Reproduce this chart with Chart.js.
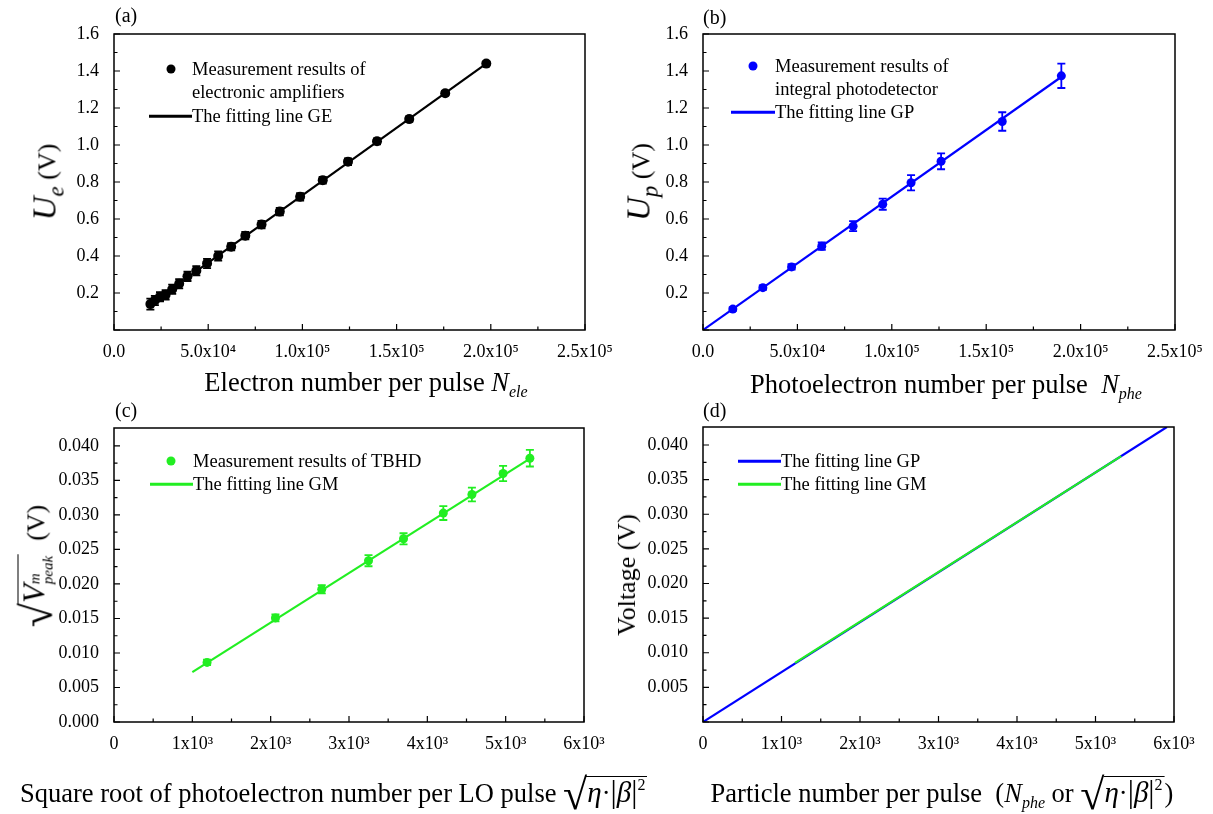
<!DOCTYPE html>
<html><head><meta charset="utf-8">
<script src="https://cdn.jsdelivr.net/npm/chart.js@4.4.1/dist/chart.umd.min.js"></script>
<style>
html,body{margin:0;padding:0;background:#fff;}
#root{position:relative;width:1213px;height:814px;overflow:hidden;font-family:"Liberation Serif","Times New Roman",serif;color:#000;}
.pane{position:absolute;}
.pane canvas{display:block;}
.t{position:absolute;white-space:nowrap;font-size:26.5px;line-height:26px;}
.xt{transform:translateX(-50%);}
.yt{position:absolute;white-space:nowrap;font-size:26px;line-height:30px;transform:translate(-50%,-50%) rotate(-90deg);}
.pl{position:absolute;font-size:20px;line-height:20px;white-space:nowrap;}
.lg{position:absolute;font-size:18.5px;line-height:20px;white-space:nowrap;}
.dot{position:absolute;width:9px;height:9px;border-radius:50%;transform:translate(-50%,-50%);}
.ln{position:absolute;height:2.5px;transform:translateY(-50%);}
.sb{font-size:16px;vertical-align:-6px;line-height:0;}
.sp{font-size:16px;vertical-align:12px;line-height:0;}
.sq{display:inline-block;white-space:nowrap;}
.rs{font-size:44px;line-height:26px;vertical-align:-7px;margin-right:-1px;}
.ov{display:inline-block;border-top:1.4px solid #000;line-height:28px;padding:1px 2px 0 1px;}
.gk{font-size:29px;}
.bar{font-size:31px;}
</style></head><body><div id="root">
<div class="pane" style="left:0;top:0;width:640px;height:400px"><canvas id="ca" width="640" height="400"></canvas></div>
<div class="pane" style="left:600px;top:0;width:613px;height:400px"><canvas id="cb" width="613" height="400"></canvas></div>
<div class="pane" style="left:0;top:400px;width:640px;height:414px"><canvas id="cc" width="640" height="414"></canvas></div>
<div class="pane" style="left:600px;top:400px;width:613px;height:414px"><canvas id="cd" width="613" height="414"></canvas></div>

<div class="pl" style="left:115px;top:5px">(a)</div>
<div class="pl" style="left:703px;top:7px">(b)</div>
<div class="pl" style="left:115px;top:400px">(c)</div>
<div class="pl" style="left:703px;top:400px">(d)</div>

<!-- legends -->
<div class="dot" style="left:171px;top:69px;background:#000"></div>
<div class="lg" style="left:192px;top:59px">Measurement results of</div>
<div class="lg" style="left:192px;top:82px">electronic amplifiers</div>
<div class="ln" style="left:149px;top:116px;width:43px;background:#000"></div>
<div class="lg" style="left:192px;top:106px">The fitting line GE</div>

<div class="dot" style="left:753px;top:66px;background:#0000ff"></div>
<div class="lg" style="left:775px;top:56px">Measurement results of</div>
<div class="lg" style="left:775px;top:79px">integral photodetector</div>
<div class="ln" style="left:731px;top:112px;width:44px;background:#0000ff"></div>
<div class="lg" style="left:775px;top:102px">The fitting line GP</div>

<div class="dot" style="left:171px;top:461px;background:#22ee22"></div>
<div class="lg" style="left:193px;top:451px">Measurement results of TBHD</div>
<div class="ln" style="left:150px;top:484px;width:43px;background:#22ee22"></div>
<div class="lg" style="left:193px;top:474px">The fitting line GM</div>

<div class="ln" style="left:738px;top:461px;width:43px;background:#0000ff"></div>
<div class="lg" style="left:781px;top:451px">The fitting line GP</div>
<div class="ln" style="left:738px;top:484px;width:43px;background:#22ee22"></div>
<div class="lg" style="left:781px;top:474px">The fitting line GM</div>

<!-- axis titles -->
<div class="t xt" style="left:366px;top:369px">Electron number per pulse <i>N</i><i class="sb">ele</i></div>
<div class="t xt" style="left:946px;top:371px">Photoelectron number per pulse &nbsp;<i>N</i><i class="sb">phe</i></div>
<div class="t" style="left:20px;top:776px">Square root of photoelectron number per LO pulse <span class="sq"><span class="rs">√</span><span class="ov"><i class="gk">η</i>·<span class="bar">|</span><i class="gk">β</i><span class="bar">|</span><span class="sp">2</span></span></span></div>
<div class="t xt" style="left:942px;top:776px">Particle number per pulse &nbsp;(<i>N</i><i class="sb">phe</i> or <span class="sq"><span class="rs">√</span><span class="ov"><i class="gk">η</i>·<span class="bar">|</span><i class="gk">β</i><span class="bar">|</span><span class="sp">2</span></span></span>)</div>

<div class="yt" style="left:46px;top:182px"><i style="font-size:33px">U</i><i class="sb" style="font-size:23px;vertical-align:-8px">e</i> (V)</div>
<div class="yt" style="left:640px;top:182px"><i style="font-size:33px">U</i><i class="sb" style="font-size:23px;vertical-align:-8px">p</i> (V)</div>
<div class="yt" style="left:36px;top:566px"><span class="sq"><span class="rs" style="font-size:44px">√</span><span class="ov" style="line-height:30px"><i style="font-size:31px">V</i><span style="display:inline-block;vertical-align:-8px;line-height:13px;font-size:15px;text-align:left"><i>m</i><br><i>peak</i></span></span></span> &nbsp;(V)</div>
<div class="yt" style="left:627px;top:575px">Voltage (V)</div>
</div>

<script>
// ---------- data ----------
// (a) electronic amplifiers
const aX = [19300, 21700, 24400, 27400, 30900, 34600, 39000, 43700, 49400, 55300, 62200, 69700, 78300, 88000, 98800, 110800, 124200, 139600, 156700, 175800, 197600];
const aY = [0.14, 0.16, 0.18, 0.19, 0.22, 0.25, 0.29, 0.32, 0.36, 0.40, 0.45, 0.51, 0.57, 0.64, 0.72, 0.81, 0.91, 1.02, 1.14, 1.28, 1.44];
const aErr = [0.03, 0.025, 0.025, 0.025, 0.025, 0.025, 0.025, 0.025, 0.025, 0.025, 0.02, 0.02, 0.02, 0.02, 0.02, 0.018, 0.018, 0.016, 0.015, 0.012, 0.01];
const aFitX = [19300, 197600];
const aFitY = [0.14, 1.44];
// (b) integral photodetector
const bX = [15800, 31700, 46900, 62900, 79500, 95200, 110200, 126100, 158500, 189800];
const bY = [0.113, 0.229, 0.341, 0.453, 0.561, 0.680, 0.796, 0.912, 1.127, 1.374];
const bErr = [0.01, 0.012, 0.015, 0.02, 0.027, 0.03, 0.041, 0.043, 0.05, 0.066];
const bFitX = [0, 188400];
const bFitY = [0, 1.358];
// (c) TBHD
const cX = [1188, 2061, 2652, 3249, 3696, 4204, 4569, 4967, 5309];
const cY = [0.00863, 0.01508, 0.01923, 0.02337, 0.02655, 0.03027, 0.03296, 0.0360, 0.03822];
const cErr = [0.0004, 0.0005, 0.0006, 0.0008, 0.0008, 0.001, 0.001, 0.0011, 0.0012];
const cFitX = [1000, 5315];
const cFitY = [0.00723, 0.0382];
// (d) fitting lines
const dGPX = [0, 5910];
const dGPY = [0, 0.0426];
const dGMX = [1172, 5328];
const dGMY = [0.00853, 0.0384];

// ticks
const abXTicks = [0, 50000, 100000, 150000, 200000, 250000];
const abXLabels = ['0.0', '5.0x10⁴', '1.0x10⁵', '1.5x10⁵', '2.0x10⁵', '2.5x10⁵'];
const abYTicks = [0, 0.2, 0.4, 0.6, 0.8, 1.0, 1.2, 1.4, 1.6];
const abYLabels = ['', '0.2', '0.4', '0.6', '0.8', '1.0', '1.2', '1.4', '1.6'];
const cdXTicks = [0, 1000, 2000, 3000, 4000, 5000, 6000];
const cdXLabels = ['0', '1x10³', '2x10³', '3x10³', '4x10³', '5x10³', '6x10³'];
const cdYTicks = [0, 0.005, 0.010, 0.015, 0.020, 0.025, 0.030, 0.035, 0.040];
const cYLabels = ['0.000', '0.005', '0.010', '0.015', '0.020', '0.025', '0.030', '0.035', '0.040'];
const dYLabels = ['', '0.005', '0.010', '0.015', '0.020', '0.025', '0.030', '0.035', '0.040'];

const BLACK = '#000000', BLUE = '#0000ff', GREEN = '#22ee22';

// ---------- plugins ----------
const errorBars = {
  id: 'errorBars',
  afterDatasetsDraw(chart) {
    const ctx = chart.ctx, xs = chart.scales.x, ys = chart.scales.y;
    chart.data.datasets.forEach(ds => {
      if (!ds.errors) return;
      ctx.save();
      ctx.strokeStyle = ds.borderColor;
      ctx.lineWidth = 1.8;
      ctx.beginPath();
      ds.data.forEach((p, j) => {
        const px = xs.getPixelForValue(p.x);
        const t = ys.getPixelForValue(p.y + ds.errors[j]);
        const b = ys.getPixelForValue(p.y - ds.errors[j]);
        ctx.moveTo(px, t); ctx.lineTo(px, b);
        ctx.moveTo(px - 4, t); ctx.lineTo(px + 4, t);
        ctx.moveTo(px - 4, b); ctx.lineTo(px + 4, b);
      });
      ctx.stroke();
      ctx.restore();
    });
  }
};
const frameTicks = {
  id: 'frameTicks',
  afterDraw(chart) {
    const ctx = chart.ctx, a = chart.chartArea, xs = chart.scales.x, ys = chart.scales.y;
    ctx.save();
    ctx.strokeStyle = '#000';
    ctx.lineWidth = 1.2;
    ctx.beginPath();
    const maj = 6, mnr = 3.5;
    const xv = xs.ticks.map(t => t.value), yv = ys.ticks.map(t => t.value);
    xv.forEach((v, i) => {
      const p = xs.getPixelForValue(v);
      ctx.moveTo(p, a.bottom); ctx.lineTo(p, a.bottom - maj);
      if (i < xv.length - 1) {
        const m = xs.getPixelForValue((v + xv[i + 1]) / 2);
        ctx.moveTo(m, a.bottom); ctx.lineTo(m, a.bottom - mnr);
      }
    });
    yv.forEach((v, i) => {
      const p = ys.getPixelForValue(v);
      ctx.moveTo(a.left, p); ctx.lineTo(a.left + maj, p);
      if (i < yv.length - 1) {
        const m = ys.getPixelForValue((v + yv[i + 1]) / 2);
        ctx.moveTo(a.left, m); ctx.lineTo(a.left + mnr, m);
      }
    });
    ctx.stroke();
    ctx.lineWidth = 1.5;
    ctx.strokeRect(a.left, a.top, a.right - a.left, a.bottom - a.top);
    ctx.restore();
  }
};

function pts(xs, ys) { return xs.map((x, i) => ({ x: x, y: ys[i] })); }
function pointSet(xs, ys, errs, c, r) {
  return { data: pts(xs, ys), errors: errs, showLine: false, pointRadius: r, pointHoverRadius: r,
           pointBackgroundColor: c, pointBorderColor: c, pointBorderWidth: 0, borderColor: c, backgroundColor: c };
}
function lineSet(xs, ys, c) {
  return { data: pts(xs, ys), showLine: true, pointRadius: 0, borderColor: c, backgroundColor: c, borderWidth: 2.2, tension: 0 };
}

const tickFont = { family: '"Liberation Serif", serif', size: 18 };

function build(id, o) {
  return new Chart(document.getElementById(id), {
    type: 'scatter',
    data: { datasets: o.datasets },
    options: {
      responsive: false, animation: false, devicePixelRatio: 1,
      layout: { padding: { left: 0, top: o.padTop, right: o.padRight, bottom: o.padBottom } },
      plugins: { legend: { display: false }, tooltip: { enabled: false } },
      scales: {
        x: {
          type: 'linear', min: o.xMin, max: o.xMax,
          grid: { display: false }, border: { display: false },
          afterBuildTicks: s => { s.ticks = o.xTicks.map(v => ({ value: v })); },
          afterFit: s => { s.height = 45; },
          ticks: { padding: 3, color: '#000', font: tickFont, maxRotation: 0, autoSkip: false,
                   callback: (v, i) => o.xLabels[i] }
        },
        y: {
          type: 'linear', min: o.yMin, max: o.yMax,
          grid: { display: false }, border: { display: false },
          afterBuildTicks: s => { s.ticks = o.yTicks.map(v => ({ value: v })); },
          afterFit: s => { s.width = o.yW; },
          ticks: { padding: 7, color: '#000', font: tickFont, autoSkip: false,
                   callback: (v, i) => o.yLabels[i] }
        }
      }
    },
    plugins: [errorBars, frameTicks]
  });
}

build('ca', {
  datasets: [pointSet(aX, aY, aErr, BLACK, 5), lineSet(aFitX, aFitY, BLACK)],
  xMin: 0, xMax: 250000, yMin: 0, yMax: 1.6,
  xTicks: abXTicks, xLabels: abXLabels, yTicks: abYTicks, yLabels: abYLabels,
  yW: 114, padTop: 34, padRight: 55, padBottom: 25
});
build('cb', {
  datasets: [pointSet(bX, bY, bErr, BLUE, 4.5), lineSet(bFitX, bFitY, BLUE)],
  xMin: 0, xMax: 250000, yMin: 0, yMax: 1.6,
  xTicks: abXTicks, xLabels: abXLabels, yTicks: abYTicks, yLabels: abYLabels,
  yW: 103, padTop: 34, padRight: 38, padBottom: 25
});
build('cc', {
  datasets: [pointSet(cX, cY, cErr, GREEN, 4.5), lineSet(cFitX, cFitY, GREEN)],
  xMin: 0, xMax: 6000, yMin: 0, yMax: 0.0426,
  xTicks: cdXTicks, xLabels: cdXLabels, yTicks: cdYTicks, yLabels: cYLabels,
  yW: 114, padTop: 28, padRight: 56, padBottom: 47
});
build('cd', {
  datasets: [lineSet(dGMX, dGMY, GREEN), lineSet(dGPX, dGPY, BLUE)],
  xMin: 0, xMax: 6000, yMin: 0, yMax: 0.0426,
  xTicks: cdXTicks, xLabels: cdXLabels, yTicks: cdYTicks, yLabels: dYLabels,
  yW: 103, padTop: 27, padRight: 39, padBottom: 47
});
</script>
</body></html>
